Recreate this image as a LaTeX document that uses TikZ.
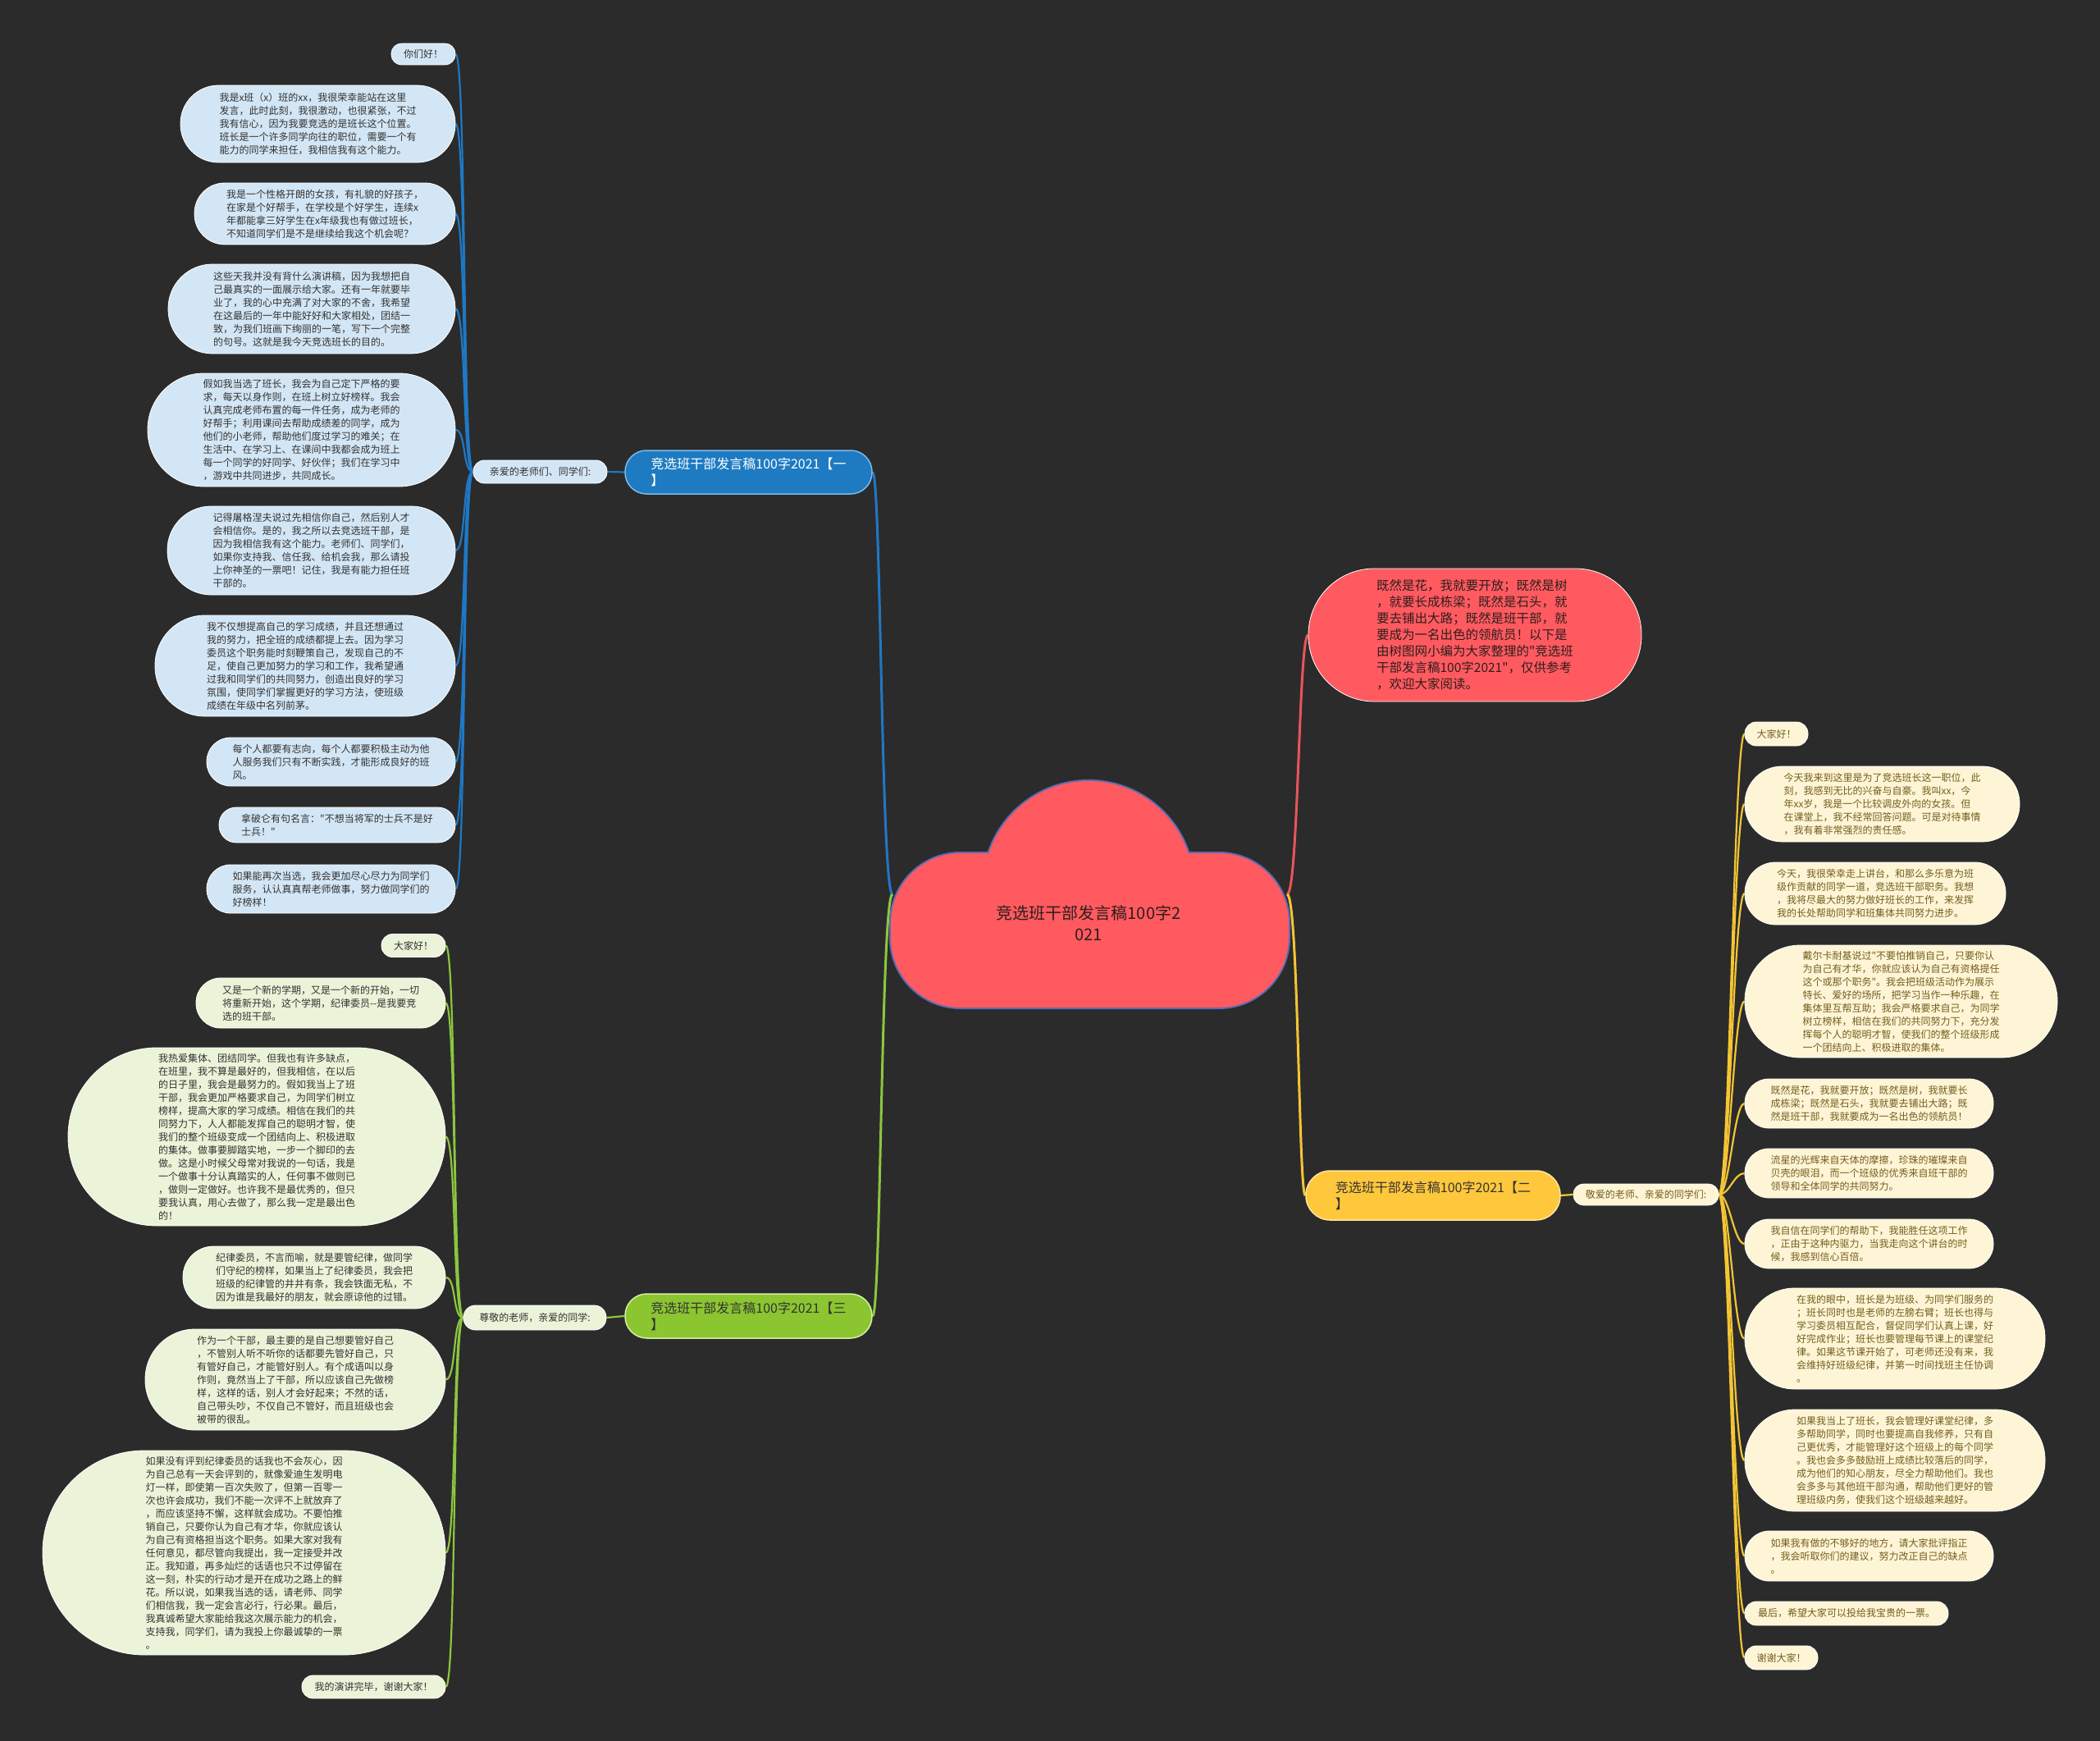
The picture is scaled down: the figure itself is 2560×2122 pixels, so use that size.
\documentclass[tikz,border=0pt]{standalone}
\usepackage{fontspec}
\setmainfont{Noto Sans CJK SC}[Ligatures=TeXOff]
\usetikzlibrary{backgrounds}
\definecolor{bg}{HTML}{2B2B2B}
\definecolor{cfill}{HTML}{FF5A5F}
\definecolor{cedge}{HTML}{5A6BB5}
\definecolor{bline}{HTML}{1F78C4}
\definecolor{bbranch}{HTML}{1E7BC2}
\definecolor{bbranchedge}{HTML}{7DB9EC}
\definecolor{bleaf}{HTML}{D3E6F5}
\definecolor{gline}{HTML}{8CC63F}
\definecolor{gbranch}{HTML}{8BC530}
\definecolor{gbranchedge}{HTML}{D5F0A8}
\definecolor{gleaf}{HTML}{EBF3D8}
\definecolor{yline}{HTML}{F4C534}
\definecolor{ybranch}{HTML}{FFC73B}
\definecolor{ybranchedge}{HTML}{FFE7A0}
\definecolor{yleaf}{HTML}{FEF5D6}
\definecolor{ytext}{HTML}{735E1D}
\definecolor{rline}{HTML}{E8555A}
\definecolor{dtext}{HTML}{333333}
\definecolor{ctext}{HTML}{2E1E1E}
\newcommand\lf[7]{\node[#2,minimum width=#5pt,minimum height=#6pt,rounded corners=#7pt] (#1) at (#3,#4)}
\tikzset{
  leafbase/.style={inner sep=0pt,align=left,line width=0.8pt,draw=white,font=\fontsize{12}{16}\selectfont},
  bleafst/.style={leafbase,fill=bleaf,text=dtext},
  gleafst/.style={leafbase,fill=gleaf,text=dtext},
  yleafst/.style={leafbase,fill=yleaf,text=ytext},
  branchst/.style={inner sep=0pt,align=left,line width=1.5pt,font=\fontsize{16}{20}\selectfont},
  bcon/.style={draw=bline,line width=2.2pt},
  gcon/.style={draw=gline,line width=2.2pt},
  ycon/.style={draw=yline,line width=2.2pt},
}
\begin{document}
\begin{tikzpicture}[x=1pt,y=-1pt]
\useasboundingbox (0,0) rectangle (2560,2122);
% central cloud
\path[draw=cedge,line width=4pt,rounded corners=85pt] (1086,1040) rectangle (1571,1228);
\path[draw=cedge,line width=4pt] (1327,1080) circle[radius=128pt];
\path[fill=cfill,rounded corners=85pt] (1086,1040) rectangle (1571,1228);
\path[fill=cfill] (1327,1080) circle[radius=128pt];
\node[align=center,text=ctext,font=\fontsize{20}{26}\selectfont] (center) at (1327,1125) {竞选班干部发言稿100字2\\021};
\coordinate (cL) at (1088,1090);
\coordinate (cR) at (1569,1090);

% red bubble
\lf{red}{leafbase,fill=cfill,text=ctext,font=\fontsize{15.5}{20}\selectfont}{1798}{774}{406}{162}{80.5}
{既然是花，我就要开放；既然是树\\，就要长成栋梁；既然是石头，就\\要去铺出大路；既然是班干部，就\\要成为一名出色的领航员！以下是\\由树图网小编为大家整理的"竞选班\\干部发言稿100字2021"，仅供参考\\，欢迎大家阅读。};

% ===== blue branch =====
\lf{bbr}{branchst,fill=bbranch,draw=bbranchedge,text=white}{912.5}{575.5}{301}{53}{26}{竞选班干部发言稿100字2021【一\\】};
\lf{bsub}{bleafst}{658.5}{575}{163}{28}{13.5}{亲爱的老师们、同学们:};
\lf{b1}{bleafst}{516}{66}{78}{26}{12.5}{你们好！};
\lf{b2}{bleafst}{387.5}{151}{335}{94}{46.5}{我是x班（x）班的xx，我很荣幸能站在这里\\发言，此时此刻，我很激动，也很紧张，不过\\我有信心，因为我要竞选的是班长这个位置。\\班长是一个许多同学向往的职位，需要一个有\\能力的同学来担任，我相信我有这个能力。};
\lf{b3}{bleafst}{396}{260.5}{318}{75}{37}{我是一个性格开朗的女孩，有礼貌的好孩子，\\在家是个好帮手，在学校是个好学生，连续x\\年都能拿三好学生在x年级我也有做过班长，\\不知道同学们是不是继续给我这个机会呢？};
\lf{b4}{bleafst}{380}{376.5}{350}{109}{54}{这些天我并没有背什么演讲稿，因为我想把自\\己最真实的一面展示给大家。还有一年就要毕\\业了，我的心中充满了对大家的不舍，我希望\\在这最后的一年中能好好和大家相处，团结一\\致，为我们班画下绚丽的一笔，写下一个完整\\的句号。这就是我今天竞选班长的目的。};
\lf{b5}{bleafst}{367.5}{524}{375}{138}{68.5}{假如我当选了班长，我会为自己定下严格的要\\求，每天以身作则，在班上树立好榜样。我会\\认真完成老师布置的每一件任务，成为老师的\\好帮手；利用课间去帮助成绩差的同学，成为\\他们的小老师，帮助他们度过学习的难关；在\\生活中、在学习上、在课间中我都会成为班上\\每一个同学的好同学、好伙伴；我们在学习中\\，游戏中共同进步，共同成长。};
\lf{b6}{bleafst}{379.5}{671}{351}{108}{53.5}{记得屠格涅夫说过先相信你自己，然后别人才\\会相信你。是的，我之所以去竞选班干部，是\\因为我相信我有这个能力。老师们、同学们，\\如果你支持我、信任我、给机会我，那么请投\\上你神圣的一票吧！记住，我是有能力担任班\\干部的。};
\lf{b7}{bleafst}{372}{811.5}{366}{123}{61}{我不仅想提高自己的学习成绩，并且还想通过\\我的努力，把全班的成绩都提上去。因为学习\\委员这个职务能时刻鞭策自己，发现自己的不\\足，使自己更加努力的学习和工作，我希望通\\过我和同学们的共同努力，创造出良好的学习\\氛围，使同学们掌握更好的学习方法，使班级\\成绩在年级中名列前茅。};
\lf{b8}{bleafst}{403.5}{928.5}{303}{59}{29}{每个人都要有志向，每个人都要积极主动为他\\人服务我们只有不断实践，才能形成良好的班\\风。};
\lf{b9}{bleafst}{411}{1005.5}{288}{43}{21}{拿破仑有句名言："不想当将军的士兵不是好\\士兵！"};
\lf{b10}{bleafst}{403.5}{1083.5}{303}{59}{29}{如果能再次当选，我会更加尽心尽力为同学们\\服务，认认真真帮老师做事，努力做同学们的\\好榜样！};

% ===== green branch =====
\lf{gbr}{branchst,fill=gbranch,draw=gbranchedge,text=dtext}{912.5}{1604}{301}{54}{26.5}{竞选班干部发言稿100字2021【三\\】};
\lf{gsub}{gleafst}{652}{1606}{174}{30}{14.5}{尊敬的老师，亲爱的同学:};
\lf{g1}{gleafst}{504}{1152.5}{78}{28}{13.5}{大家好！};
\lf{g2}{gleafst}{391}{1222.5}{304}{61}{30}{又是一个新的学期，又是一个新的开始，一切\\将重新开始，这个学期，纪律委员--是我要竞\\选的班干部。};
\lf{g3}{gleafst}{313}{1385.5}{460}{217}{108}{我热爱集体、团结同学。但我也有许多缺点，\\在班里，我不算是最好的，但我相信，在以后\\的日子里，我会是最努力的。假如我当上了班\\干部，我会更加严格要求自己，为同学们树立\\榜样，提高大家的学习成绩。相信在我们的共\\同努力下，人人都能发挥自己的聪明才智，使\\我们的整个班级变成一个团结向上、积极进取\\的集体。做事要脚踏实地，一步一个脚印的去\\做。这是小时候父母常对我说的一句话，我是\\一个做事十分认真踏实的人，任何事不做则已\\，做则一定做好。也许我不是最优秀的，但只\\要我认真，用心去做了，那么我一定是最出色\\的！};
\lf{g4}{gleafst}{383}{1557}{320}{76}{37.5}{纪律委员，不言而喻，就是要管纪律，做同学\\们守纪的榜样，如果当上了纪律委员，我会把\\班级的纪律管的井井有条，我会铁面无私，不\\因为谁是我最好的朋友，就会原谅他的过错。};
\lf{g5}{gleafst}{360}{1681.5}{366}{123}{61}{作为一个干部，最主要的是自己想要管好自己\\，不管别人听不听你的话都要先管好自己，只\\有管好自己，才能管好别人。有个成语叫以身\\作则，竟然当上了干部，所以应该自己先做榜\\样，这样的话，别人才会好起来；不然的话，\\自己带头吵，不仅自己不管好，而且班级也会\\被带的很乱。};
\lf{g6}{gleafst}{297.5}{1892.5}{491}{249}{124}{如果没有评到纪律委员的话我也不会灰心，因\\为自己总有一天会评到的，就像爱迪生发明电\\灯一样，即使第一百次失败了，但第一百零一\\次也许会成功，我们不能一次评不上就放弃了\\，而应该坚持不懈，这样就会成功。不要怕推\\销自己，只要你认为自己有才华，你就应该认\\为自己有资格担当这个职务。如果大家对我有\\任何意见，都尽管向我提出，我一定接受并改\\正。我知道，再多灿烂的话语也只不过停留在\\这一刻，朴实的行动才是开在成功之路上的鲜\\花。所以说，如果我当选的话，请老师、同学\\们相信我，我一定会言必行，行必果。最后，\\我真诚希望大家能给我这次展示能力的机会，\\支持我，同学们，请为我投上你最诚挚的一票\\。};
\lf{g7}{gleafst}{455.5}{2056}{175}{28}{13.5}{我的演讲完毕，谢谢大家！};

% ===== yellow branch =====
\lf{ybr}{branchst,fill=ybranch,draw=ybranchedge,text=dtext}{1747}{1457}{310}{60}{29.5}{竞选班干部发言稿100字2021【二\\】};
\lf{ysub}{yleafst}{2006.5}{1456}{177}{26}{12.5}{敬爱的老师、亲爱的同学们:};
\lf{y1}{yleafst}{2165.5}{894.5}{77}{29}{14}{大家好！};
\lf{y2}{yleafst}{2294.5}{980}{335}{92}{45.5}{今天我来到这里是为了竞选班长这一职位，此\\刻，我感到无比的兴奋与自豪。我叫xx，今\\年xx岁，我是一个比较调皮外向的女孩。但\\在课堂上，我不经常回答问题。可是对待事情\\，我有着非常强烈的责任感。};
\lf{y3}{yleafst}{2286}{1089}{318}{76}{37.5}{今天，我很荣幸走上讲台，和那么多乐意为班\\级作贡献的同学一道，竞选班干部职务。我想\\，我将尽最大的努力做好班长的工作，来发挥\\我的长处帮助同学和班集体共同努力进步。};
\lf{y4}{yleafst}{2317.5}{1220.5}{381}{137}{68}{戴尔卡耐基说过"不要怕推销自己，只要你认\\为自己有才华，你就应该认为自己有资格提任\\这个或那个职务"。我会把班级活动作为展示\\特长、爱好的场所，把学习当作一种乐趣，在\\集体里互帮互助；我会严格要求自己，为同学\\树立榜样，相信在我们的共同努力下，充分发\\挥每个人的聪明才智，使我们的整个班级形成\\一个团结向上、积极进取的集体。};
\lf{y5}{yleafst}{2278.5}{1345}{303}{60}{29.5}{既然是花，我就要开放；既然是树，我就要长\\成栋梁；既然是石头，我就要去铺出大路；既\\然是班干部，我就要成为一名出色的领航员！};
\lf{y6}{yleafst}{2278.5}{1430}{303}{60}{29.5}{流星的光辉来自天体的摩擦，珍珠的璀璨来自\\贝壳的眼泪，而一个班级的优秀来自班干部的\\领导和全体同学的共同努力。};
\lf{y7}{yleafst}{2278.5}{1516}{303}{60}{29.5}{我自信在同学们的帮助下，我能胜任这项工作\\，正由于这种内驱力，当我走向这个讲台的时\\候，我感到信心百倍。};
\lf{y8}{yleafst}{2310}{1631.5}{366}{123}{61}{在我的眼中，班长是为班级、为同学们服务的\\；班长同时也是老师的左膀右臂；班长也得与\\学习委员相互配合，督促同学们认真上课，好\\好完成作业；班长也要管理每节课上的课堂纪\\律。如果这节课开始了，可老师还没有来，我\\会维持好班级纪律，并第一时间找班主任协调\\。};
\lf{y9}{yleafst}{2310}{1780}{366}{124}{61.5}{如果我当上了班长，我会管理好课堂纪律，多\\多帮助同学，同时也要提高自我修养，只有自\\己更优秀，才能管理好这个班级上的每个同学\\。我也会多多鼓励班上成绩比较落后的同学，\\成为他们的知心朋友，尽全力帮助他们。我也\\会多多与其他班干部沟通，帮助他们更好的管\\理班级内务，使我们这个班级越来越好。};
\lf{y10}{yleafst}{2278.5}{1896.5}{303}{61}{30}{如果我有做的不够好的地方，请大家批评指正\\，我会听取你们的建议，努力改正自己的缺点\\。};
\lf{y11}{yleafst}{2251}{1966.5}{248}{29}{14}{最后，希望大家可以投给我宝贵的一票。};
\lf{y12}{yleafst}{2171.5}{2020.5}{89}{29}{14}{谢谢大家！};

\begin{pgfonlayer}{background}
\fill[bg] (0,0) rectangle (2560,2122);
% main connectors
\draw[draw=bline,line width=3pt] (cL) .. controls (1074,1090) and (1074,575.5) .. (bbr.east);
\draw[draw=gline,line width=3pt] (cL) .. controls (1074,1090) and (1074,1604) .. (gbr.east);
\draw[draw=rline,line width=3pt] (cR) .. controls (1583,1090) and (1583,774) .. (red.west);
\draw[draw=yline,line width=3pt] (cR) .. controls (1583,1090) and (1583,1457) .. (ybr.west);
% branch to sub-label
\draw[bcon] (bbr.west) -- (bsub.east);
\draw[gcon] (gbr.west) -- (gsub.east);
\draw[ycon] (ybr.east) -- (ysub.west);
% leaves
\foreach \n in {b1,b2,b3,b4,b5,b6,b7,b8,b9,b10}
  \draw[bcon] (bsub.west) .. controls +(-13,0) and +(13,0) .. (\n.east);
\foreach \n in {g1,g2,g3,g4,g5,g6,g7}
  \draw[gcon] (gsub.west) .. controls +(-13,0) and +(13,0) .. (\n.east);
\foreach \n in {y1,y2,y3,y4,y5,y6,y7,y8,y9,y10,y11,y12}
  \draw[ycon] (ysub.east) .. controls +(13,0) and +(-13,0) .. (\n.west);
\end{pgfonlayer}
\end{tikzpicture}
\end{document}
